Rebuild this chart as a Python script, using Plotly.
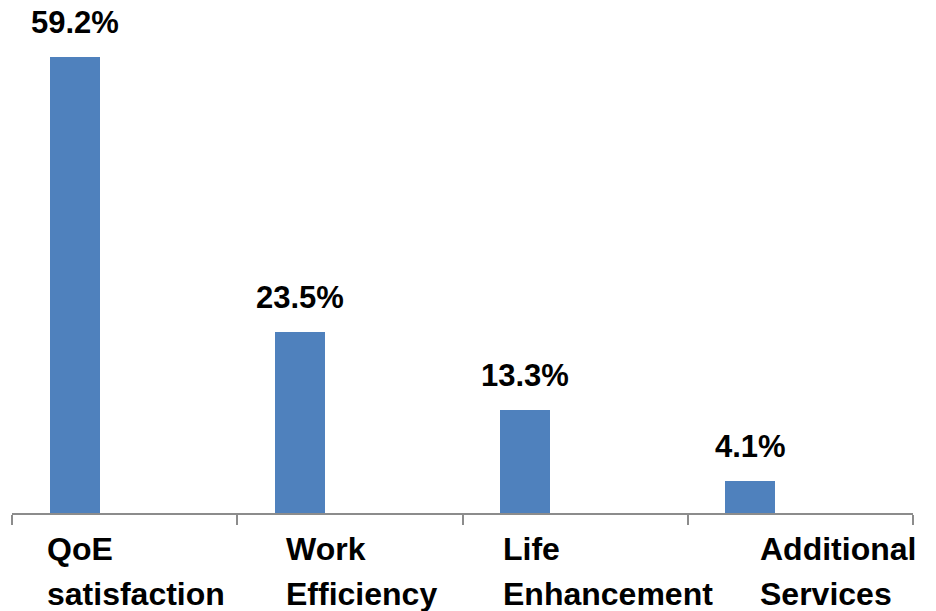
import plotly.graph_objects as go

categories = ["QoE<br>satisfaction", "Work<br>Efficiency", "Life<br>Enhancement", "Additional<br>Services"]
values = [59.2, 23.5, 13.3, 4.1]
value_labels = ["59.2%", "23.5%", "13.3%", "4.1%"]

BAR_COLOR = "#4F81BD"
AXIS_COLOR = "#8C8C8C"
FONT = "Liberation Sans, Arial, sans-serif"

idx = list(range(len(categories)))
bar_offset = -0.2225
bar_width = 0.222
bar_x = [i + bar_offset for i in idx]

fig = go.Figure()
fig.add_trace(go.Bar(
    x=bar_x, y=values, width=bar_width,
    marker=dict(color=BAR_COLOR, line=dict(width=0)),
    hoverinfo="skip", showlegend=False,
))

# value labels above bars
for xv, v, t in zip(bar_x, values, value_labels):
    fig.add_annotation(
        x=xv, y=v, xref="x", yref="y", text="<b>" + t + "</b>", showarrow=False,
        xanchor="center", yanchor="bottom", yshift=15,
        font=dict(family=FONT, size=31, color="black"),
    )

# category labels (left-aligned text boxes under each category), one line each
label_left = [0.146, 0.209, 0.171, 0.311]
line_step = 45
for i, c, off in zip(idx, categories, label_left):
    for k, line in enumerate(c.split("<br>")):
        fig.add_annotation(
            x=i - 0.5 + off, y=0, xref="x", yref="y", text="<b>" + line + "</b>",
            showarrow=False, xanchor="left", yanchor="top",
            yshift=-16 - k * line_step,
            align="left",
            font=dict(family=FONT, size=32, color="black"),
        )

fig.update_layout(
    width=936, height=611,
    margin=dict(l=12, r=23, t=0, b=98),
    paper_bgcolor="white", plot_bgcolor="white",
    bargap=0,
    xaxis=dict(
        range=[-0.5, 3.5], showgrid=False, zeroline=False,
        showline=True, linecolor=AXIS_COLOR, linewidth=2,
        tickmode="array", tickvals=[-0.5, 0.5, 1.5, 2.5, 3.5],
        ticks="outside", ticklen=10, tickwidth=2, tickcolor=AXIS_COLOR,
        showticklabels=False, fixedrange=True,
    ),
    yaxis=dict(
        range=[0, 66.53], showgrid=False, zeroline=False, showline=False,
        showticklabels=False, ticks="", fixedrange=True,
    ),
)

fig.write_html(
    "out.html",
    config={"displayModeBar": False},
    post_script="document.body.style.margin='0';document.body.style.overflow='hidden';",
)
